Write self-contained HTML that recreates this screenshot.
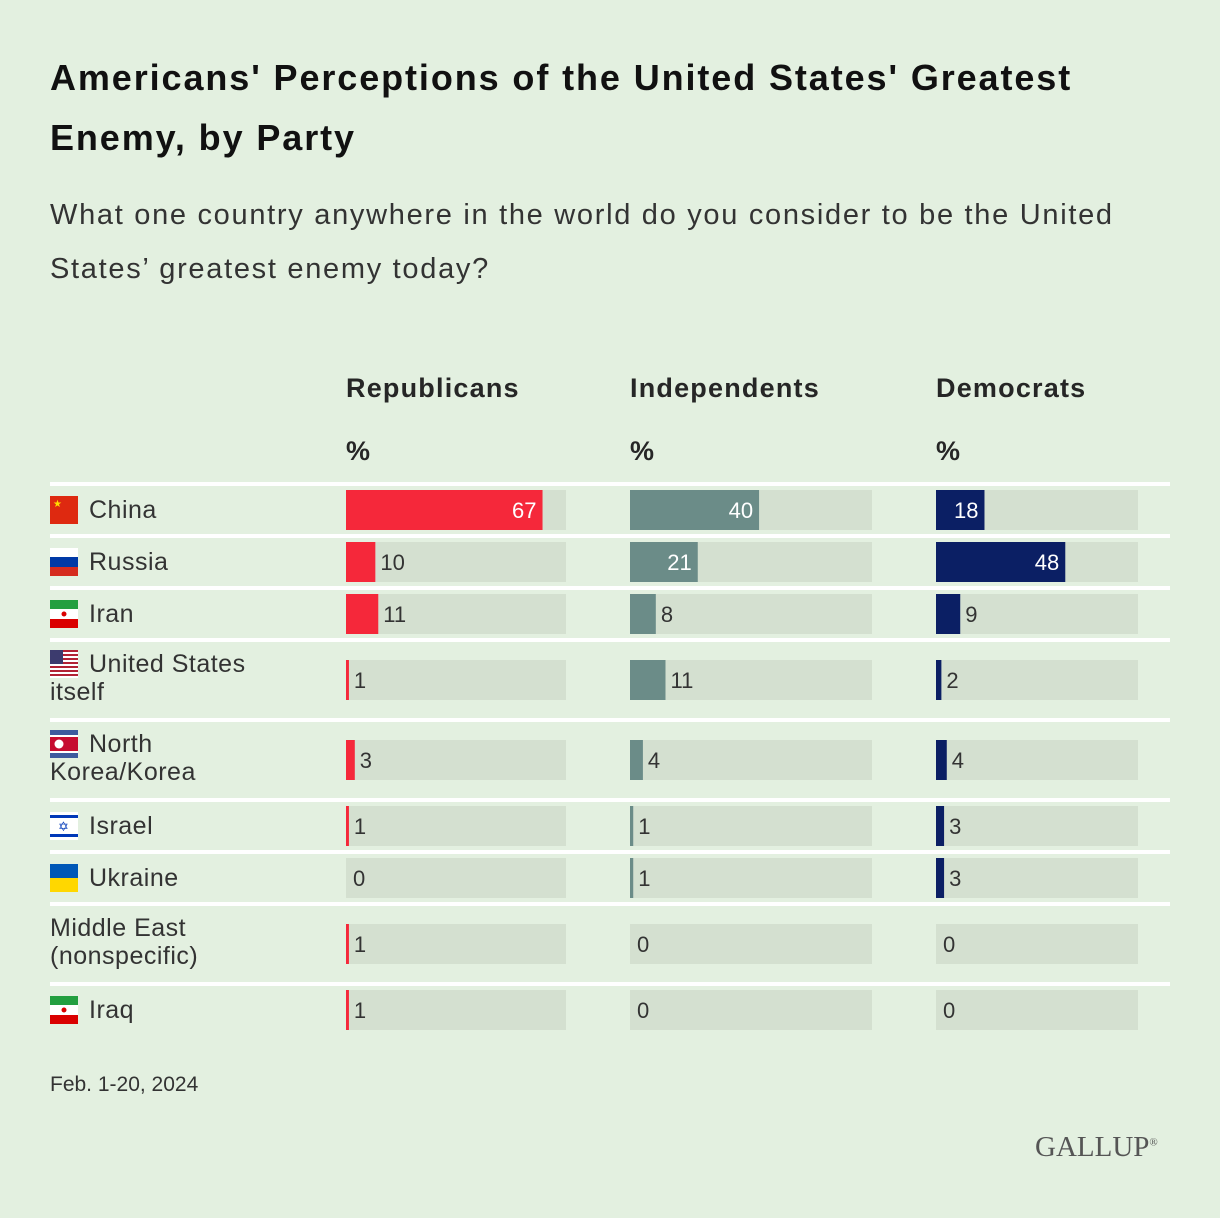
<!DOCTYPE html>
<html><head><meta charset="utf-8">
<style>
body{margin:0;background:#e3f0e0;font-family:"Liberation Sans",sans-serif;color:#262626;}
#wrap{position:relative;width:1220px;height:1218px;overflow:hidden;}
h1{position:absolute;left:50px;top:48px;margin:0;font-size:36px;line-height:60px;font-weight:bold;width:1160px;color:#111;letter-spacing:1.9px;}
.sub{position:absolute;left:50px;top:188px;font-size:29px;line-height:54px;width:1160px;color:#333;letter-spacing:1.7px;}
.foot{position:absolute;left:50px;top:1073px;font-size:21px;color:#333;}
.logo{position:absolute;left:1035px;top:1131px;font-family:"Liberation Serif",serif;font-size:29px;color:#555;}
</style></head>
<body><div id="wrap">
<h1>Americans' Perceptions of the United States' Greatest<br>Enemy, by Party</h1>
<div class="sub">What one country anywhere in the world do you consider to be the United<br>States’ greatest enemy today?</div>
<svg id="chart" width="1220" height="1218" style="position:absolute;left:0;top:0" xmlns="http://www.w3.org/2000/svg"></svg>
<div class="foot">Feb. 1-20, 2024</div>
<div class="logo">GALLUP<sup style="font-size:11px">®</sup></div>
</div>
<script>
const categories=["China","Russia","Iran","United States itself","North Korea/Korea","Israel","Ukraine","Middle East (nonspecific)","Iraq"];
const republicans=[67,10,11,1,3,1,0,1,1];
const independents=[40,21,8,11,4,1,1,0,0];
const democrats=[18,48,9,2,4,3,3,0,0];
const groups=["Republicans","Independents","Democrats"];
const maxVal=75;
const NS="http://www.w3.org/2000/svg";
const svg=document.getElementById('chart');
function mk(t,a,p){const e=document.createElementNS(NS,t);for(const k in a)e.setAttribute(k,a[k]);(p||svg).appendChild(e);return e;}
const cols=[{x:346,w:220,c:"#f5283a",d:republicans},{x:630,w:242,c:"#6b8c88",d:independents},{x:936,w:202,c:"#0b1f64",d:democrats}];
function xs(v,col){return v/maxVal*col.w;}
const labelLines=[["China"],["Russia"],["Iran"],["United States","itself"],["North","Korea/Korea"],["Israel"],["Ukraine"],["Middle East","(nonspecific)"],["Iraq"]];
const flags=["cn","ru","ir","us","kp","il","ua",null,"ir"];
groups.forEach((g,i)=>{
 const h=mk('text',{x:cols[i].x,y:397,'font-size':27,'font-weight':'bold',fill:'#262626','letter-spacing':1.2});h.textContent=g;
 
 
 const p=mk('text',{x:cols[i].x,y:460,'font-size':27,'font-weight':'bold',fill:'#262626'});p.textContent='%';
 
 
});
function flag(type,x,y){
 const g=mk('g',{});
 
 
 const R=(a,b,c,d,f)=>mk('rect',{x:x+a,y:y+b,width:c,height:d,fill:f},g);
 if(type==='cn'){R(0,0,28,28,'#de2910');mk('text',{x:x+3,y:y+11,'font-size':10,fill:'#ffde00'},g).textContent='★';}
 if(type==='ru'){R(0,0,28,9,'#fff');R(0,9,28,10,'#0039a6');R(0,19,28,9,'#d52b1e');}
 if(type==='ir'){R(0,0,28,9,'#239f40');R(0,9,28,10,'#fff');R(0,19,28,9,'#da0000');mk('circle',{cx:x+14,cy:y+14,r:2.5,fill:'#da0000'},g);}
 if(type==='us'){for(let i=0;i<7;i++){R(0,i*4,28,2,'#b22234');R(0,i*4+2,28,2,'#fff');}R(0,0,13,14,'#3c3b6e');}
 if(type==='kp'){R(0,0,28,28,'#3d5a9e');R(0,5,28,18,'#fff');R(0,7,28,14,'#c60c30');mk('circle',{cx:x+9,cy:y+14,r:4.5,fill:'#fff'},g);}
 if(type==='il'){R(0,0,28,28,'#fff');R(0,3,28,3,'#0038b8');R(0,22,28,3,'#0038b8');mk('text',{x:x+8,y:y+19,'font-size':13,fill:'#0038b8'},g).textContent='✡';}
 if(type==='ua'){R(0,0,28,14,'#0057b7');R(0,14,28,14,'#ffd700');}
}
let y=482;
categories.forEach((cat,i)=>{
 const two=labelLines[i].length>1;
 const sep=mk('rect',{x:50,y:y,width:1120,height:4,fill:'#ffffff'});
 
 
 const rowH=two?80:52;
 const by=two?y+22:y+8;
 const mid=by+20;
 const t=mk('text',{x:50,y:two?mid-8:mid+8,'font-size':25,fill:'#333','letter-spacing':0.5});
 
 
 const fl=flags[i];
 labelLines[i].forEach((ln,j)=>{const s=mk('tspan',{x:(j===0&&fl)?89:50,dy:j===0?0:28},t);s.textContent=ln;});
 if(fl)flag(fl,50,(two?mid-8:mid+8)-22);
 cols.forEach((col,k)=>{
  const tr=mk('rect',{x:col.x,y:by,width:col.w,height:40,fill:'#d4e0d0'});
  
  
  const v=col.d[i];const w=xs(v,col);
  const b=mk('rect',{x:col.x,y:by,width:Math.max(w,v>0?2:0),height:40,fill:col.c});
  
  
  const inside=w>40;
  const lb=mk('text',{x:inside?col.x+w-6:col.x+Math.max(w,2)+5,y:mid+8,'font-size':22,fill:inside?'#fff':'#333','text-anchor':inside?'end':'start'});
  lb.textContent=v;
  
  
 });
 y+=rowH;
});
</script>
</body></html>
